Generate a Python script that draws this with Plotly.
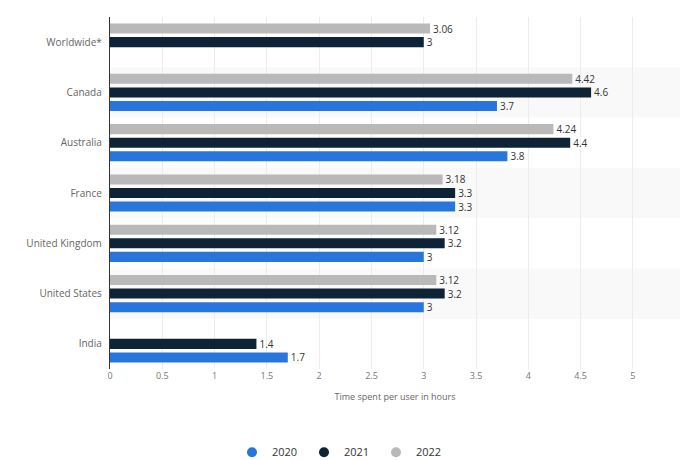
import plotly.graph_objects as go

# Categories listed bottom-to-top on the y axis
countries = ["India", "United States", "United Kingdom", "France", "Australia", "Canada", "Worldwide*"]
years = ["2020", "2021", "2022"]
hours_2020 = [1.7, 3.0, 3.0, 3.3, 3.8, 3.7, None]
hours_2021 = [1.4, 3.2, 3.2, 3.3, 4.4, 4.6, 3.0]
hours_2022 = [None, 3.12, 3.12, 3.18, 4.24, 4.42, 3.06]
x_ticks = [0, 0.5, 1, 1.5, 2, 2.5, 3, 3.5, 4, 4.5, 5, 5.5]

colors = {"2020": "#2876dd", "2021": "#0f2337", "2022": "#b9b9b9"}
series = {"2020": hours_2020, "2021": hours_2021, "2022": hours_2022}

fig = go.Figure()
for yr in years:
    vals = series[yr]
    fig.add_trace(go.Bar(
        y=countries,
        x=vals,
        name=yr,
        legendgroup=yr,
        showlegend=False,
        orientation="h",
        marker=dict(color=colors[yr], line=dict(width=0)),
        text=[("" if v is None else f"{v:g}") for v in vals],
        textposition="outside",
        textfont=dict(size=10, color="#333333"),
        cliponaxis=False,
    ))
    # round legend marker for each year
    fig.add_trace(go.Scatter(
        x=[None], y=[None], mode="markers", name=yr, legendgroup=yr,
        marker=dict(symbol="circle", size=10, color=colors[yr]),
        hoverinfo="skip",
    ))

# faint alternating row bands
for i, c in enumerate(countries):
    if c in ("Canada", "France", "United States"):
        fig.add_shape(type="rect", xref="paper", yref="y",
                      x0=0, x1=1, y0=i - 0.5, y1=i + 0.5,
                      fillcolor="#f9f9f9", line=dict(width=0), layer="below")

fig.update_layout(
    width=680, height=460,
    margin=dict(l=110, r=0, t=17, b=91),
    paper_bgcolor="white", plot_bgcolor="white",
    barmode="group", bargap=0.19, bargroupgap=0.26,
    font=dict(family="Open Sans, Arial, sans-serif", size=10, color="#666666"),
    showlegend=True,
    legend=dict(orientation="h", xref="container", yref="container",
                x=0.5, xanchor="center", y=0.017, yanchor="middle",
                font=dict(size=11, color="#333333"), itemwidth=30,
                entrywidth=27, entrywidthmode="pixels",
                traceorder="normal"),
    uniformtext=dict(minsize=8, mode="show"),
)
fig.update_xaxes(
    range=[0, 5.45], tickvals=x_ticks, ticktext=[f"{t:g}" for t in x_ticks],
    showgrid=True, gridcolor="#ececec", gridwidth=1, zeroline=False,
    showline=False, ticks="", tickfont=dict(size=9, color="#777777"),
    title=dict(text="Time spent per user in hours", font=dict(size=9, color="#666666"), standoff=12),
)
fig.update_yaxes(
    showgrid=False, showline=True, linecolor="#333333", linewidth=1,
    ticks="", ticksuffix="  ", tickfont=dict(size=10, color="#666666"),
)

fig.write_html("out.html")
